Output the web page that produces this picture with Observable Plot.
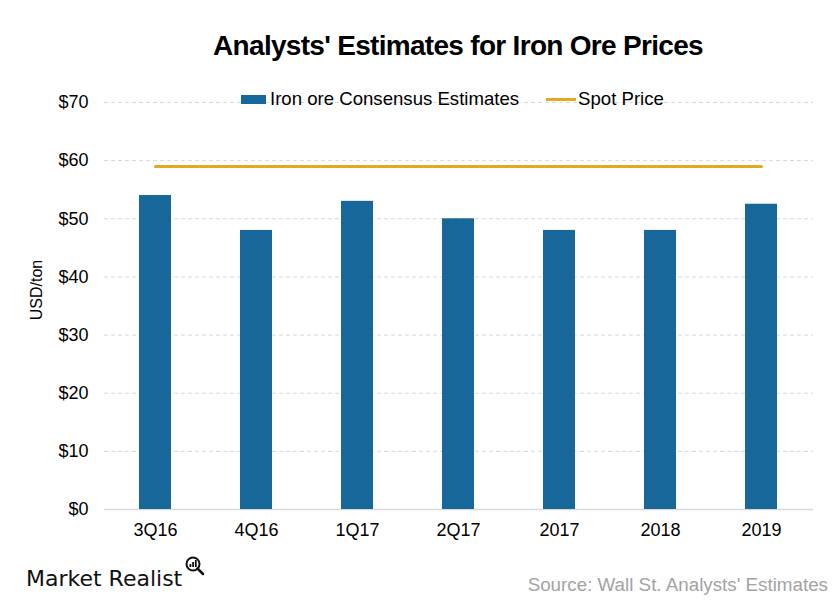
<!DOCTYPE html>
<html>
<head>
<meta charset="utf-8">
<script src="https://cdn.jsdelivr.net/npm/d3@7"></script>
<script src="https://cdn.jsdelivr.net/npm/@observablehq/plot@0.6"></script>
<style>
  html, body { margin: 0; padding: 0; background: #fff; }
  #wrap { position: relative; width: 840px; height: 600px; overflow: hidden; font-family: "Liberation Sans", Arial, sans-serif; }
  #title { position: absolute; left: 0; width: 916px; top: 26px; text-align: center; font-weight: bold; font-size: 28px; letter-spacing: -0.7px; color: #000; line-height: 40px; }
  #legend { position: absolute; top: 88px; left: 241px; font-size: 18.6px; color: #000; display: flex; align-items: center; line-height: 22px; }
  .sw-bar { display: inline-block; width: 25px; height: 9px; background: #17679a; margin-right: 4px; }
  .sw-line { display: inline-block; width: 30px; height: 3px; background: #e1aa22; margin-right: 2px; margin-left: 27px; }
  #chart { position: absolute; left: 0; top: 0; }
  #ylabel { position: absolute; left: 37px; top: 290px; transform: translate(-50%, -50%) rotate(-90deg); font-size: 16px; color: #000; white-space: nowrap; }
  #logo { position: absolute; left: 26px; top: 555px; font-family: "DejaVu Sans", sans-serif; font-size: 22px; color: #111; white-space: nowrap; }
  #logo svg { display: inline-block; vertical-align: 9px; margin-left: 2px; }
  #source { position: absolute; right: 12px; top: 574px; font-size: 18.8px; color: #a3a3a3; }
</style>
</head>
<body>
<div id="wrap">
  <div id="chart"></div>
  <div id="title">Analysts' Estimates for Iron Ore Prices</div>
  <div id="legend"><span class="sw-bar"></span><span>Iron ore Consensus Estimates</span><span class="sw-line"></span><span>Spot Price</span></div>
  <div id="ylabel">USD/ton</div>
  <div id="logo">Market Realist<svg width="24" height="22" viewBox="0 0 24 22"><circle cx="9" cy="9" r="6.5" fill="none" stroke="#111" stroke-width="2"/><line x1="13.5" y1="13.5" x2="19" y2="19" stroke="#111" stroke-width="2.5" stroke-linecap="round"/><rect x="5.5" y="9" width="1.8" height="3" fill="#111"/><rect x="8.2" y="7" width="1.8" height="5" fill="#111"/><rect x="10.9" y="5" width="1.8" height="7" fill="#111"/></svg></div>
  <div id="source">Source: Wall St. Analysts' Estimates</div>
</div>
<script>
const periods = ["3Q16", "4Q16", "1Q17", "2Q17", "2017", "2018", "2019"];
const consensus = [54.0, 48.0, 53.0, 50.0, 48.0, 48.0, 52.5];
const spotPrice = [59, 59, 59, 59, 59, 59, 59];
const yTicks = [0, 10, 20, 30, 40, 50, 60, 70];

const rows = periods.map((p, i) => ({period: p, consensus: consensus[i], spot: spotPrice[i]}));

const chart = Plot.plot({
  width: 840,
  height: 545,
  marginLeft: 104,
  marginRight: 27,
  marginTop: 102,
  marginBottom: 36,
  style: {fontFamily: "'Liberation Sans', Arial, sans-serif", fontSize: "18px", color: "#000", background: "transparent"},
  x: {domain: periods, paddingInner: 0.68, paddingOuter: 0.34, label: null},
  y: {domain: [0, 70], label: null},
  marks: [
    Plot.gridY(yTicks.filter(d => d > 0), {stroke: "#d9d9d9", strokeOpacity: 1, strokeDasharray: "4,3"}),
    Plot.ruleY([0], {stroke: "#d9d9d9", strokeWidth: 1.5}),
    Plot.barY(rows, {x: "period", y: "consensus", fill: "#17679a"}),
    Plot.lineY(rows, {x: "period", y: "spot", stroke: "#e1aa22", strokeWidth: 3}),
    Plot.axisX({tickSize: 0, tickPadding: 14, label: null}),
    Plot.axisY({ticks: yTicks, tickSize: 0, tickPadding: 16, tickFormat: d => "$" + d, label: null})
  ]
});
document.getElementById("chart").appendChild(chart);
</script>
</body>
</html>
